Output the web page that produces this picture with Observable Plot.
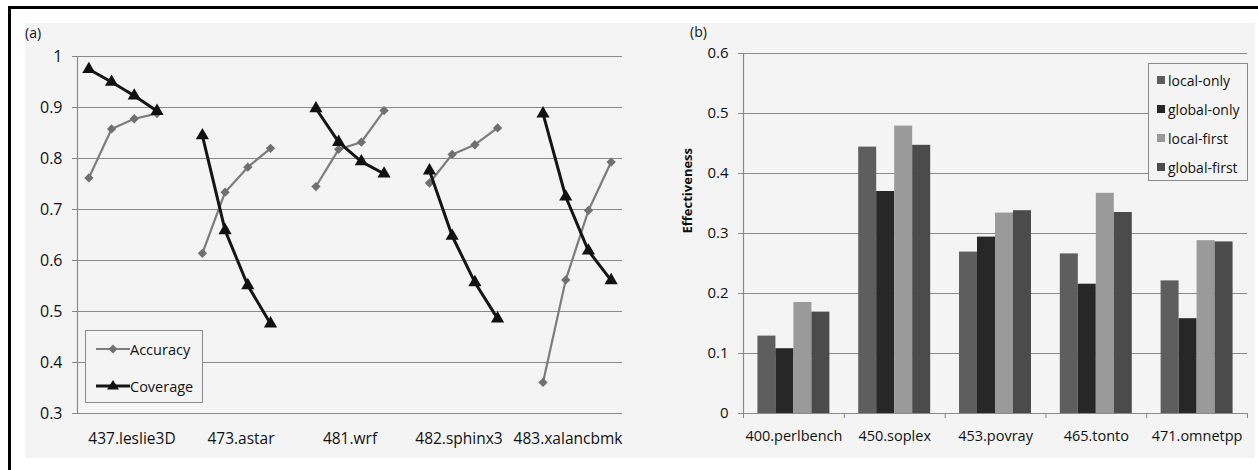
<!DOCTYPE html>
<html><head><meta charset="utf-8">
<script src="https://cdn.jsdelivr.net/npm/d3@7"></script>
<script src="https://cdn.jsdelivr.net/npm/@observablehq/plot@0.6"></script>
<style>
html,body{margin:0;padding:0;background:#fff;}
#root{position:relative;width:1258px;height:470px;overflow:hidden;font-family:"Open Sans",sans-serif;color:#111;}
#frame{position:absolute;left:8px;top:6px;width:1250px;height:464px;border-top:3px solid #000;border-left:3px solid #000;box-sizing:border-box;}
#bg{position:absolute;left:25px;top:23px;width:1230px;height:435px;background:#f4f4f4;}
.panel{position:absolute;top:0;}
.tag{position:absolute;font-size:14px;line-height:16px;color:#111;}
.legend{position:absolute;border:1px solid #8a8a8a;background:#f4f4f4;box-sizing:border-box;color:#111;}
.lrow{position:absolute;display:flex;align-items:center;white-space:nowrap;}
.sw{display:inline-block;width:8px;height:8px;margin-right:3px;}
</style></head>
<body><div id="root">
<div id="frame"></div>
<div id="bg"></div>
<div id="pa" class="panel" style="left:0"></div>
<div id="pb" class="panel" style="left:660px"></div>
<div class="tag" style="left:25px;top:25px">(a)</div>
<div class="tag" style="left:690px;top:24px">(b)</div>
<div id="legA" class="legend" style="left:85px;top:330px;width:118px;height:73px;font-size:14.5px"></div>
<div id="legB" class="legend" style="left:1148px;top:63px;width:100px;height:118px;font-size:14px"></div>
</div>
<script>
// ---- Panel (a) data ----
const benchA = ["437.leslie3D","473.astar","481.wrf","482.sphinx3","483.xalancbmk"];
const metricsA = ["Accuracy","Coverage"];
const accuracy = [
  [0.762,0.858,0.878,0.888],
  [0.614,0.734,0.783,0.820],
  [0.745,0.818,0.832,0.894],
  [0.752,0.808,0.827,0.860],
  [0.361,0.562,0.698,0.793]
];
const coverage = [
  [0.975,0.950,0.923,0.893],
  [0.845,0.659,0.551,0.476],
  [0.898,0.832,0.794,0.770],
  [0.776,0.648,0.557,0.486],
  [0.888,0.725,0.619,0.561]
];
const ticksA = [0.3,0.4,0.5,0.6,0.7,0.8,0.9,1];

// ---- Panel (b) data ----
const benchB = ["400.perlbench","450.soplex","453.povray","465.tonto","471.omnetpp"];
const seriesB = ["local-only","global-only","local-first","global-first"];
const localOnly   = [0.129,0.444,0.269,0.266,0.221];
const globalOnly  = [0.108,0.370,0.294,0.2155,0.158];
const localFirst  = [0.185,0.479,0.334,0.367,0.288];
const globalFirst = [0.169,0.447,0.338,0.335,0.286];
const ticksB = [0,0.1,0.2,0.3,0.4,0.5,0.6];
const colorsB = ["#5e5e5e","#272727","#9a9a9a","#4b4b4b"];

const fmt = d => String(+d.toFixed(1));
const GRID = "#8a8a8a";
const FONT = "'Open Sans', sans-serif";

// slots: 4 points per benchmark, one empty slot between groups
const slotsPerGroup = 5, nSlots = benchA.length * slotsPerGroup - 1;
const rowsA = [];
benchA.forEach((b, i) => {
  [accuracy, coverage].forEach((arr, m) => {
    arr[i].forEach((v, j) => rowsA.push({bench: b, metric: metricsA[m], slot: i * slotsPerGroup + j + 0.5, value: v}));
  });
});
const acc = rowsA.filter(d => d.metric === "Accuracy");
const cov = rowsA.filter(d => d.metric === "Coverage");
const labA = benchA.map((name, i) => ({name, pos: (i + 0.5) * nSlots / benchA.length}));

const plotA = Plot.plot({
  width: 680, height: 470,
  marginLeft: 77, marginRight: 58, marginTop: 56, marginBottom: 57,
  style: {background: "transparent", fontFamily: FONT, fontSize: "15px", color: "#111"},
  x: {domain: [0, nSlots], axis: null},
  y: {domain: [0.3, 1], axis: null},
  marks: [
    Plot.ruleY(ticksA, {stroke: GRID, strokeWidth: 1.2}),
    Plot.ruleX([0], {stroke: GRID, strokeWidth: 1.2}),
    Plot.axisY({ticks: ticksA, tickSize: 5, tickPadding: 10, tickFormat: fmt, stroke: GRID, fill: "#111", label: null, fontSize: 16}),
    Plot.line(acc, {x: "slot", y: "value", z: "bench", stroke: "#7c7c7c", strokeWidth: 2.2}),
    Plot.dot(acc, {x: "slot", y: "value", symbol: "diamond2", r: 4.2, fill: "#707070", stroke: "none"}),
    Plot.line(cov, {x: "slot", y: "value", z: "bench", stroke: "#151515", strokeWidth: 3}),
    Plot.dot(cov, {x: "slot", y: "value", symbol: "triangle", r: 4.9, fill: "#111", stroke: "none"}),
    Plot.text(labA, {x: "pos", text: "name", frameAnchor: "bottom", dy: 30, fontSize: 15.5, fill: "#111"})
  ]
});
document.getElementById("pa").appendChild(plotA);

// ---- Panel (b) ----
const valuesB = [localOnly, globalOnly, localFirst, globalFirst];
const outer = 0.143, barW = (1 - 2 * outer) / seriesB.length;
const rowsB = [];
benchB.forEach((b, i) => {
  seriesB.forEach((s, j) => {
    rowsB.push({bench: b, series: s, x1: i + outer + j * barW, x2: i + outer + (j + 1) * barW, value: valuesB[j][i]});
  });
});
const labB = benchB.map((name, i) => ({name, pos: i + 0.5}));

const plotB = Plot.plot({
  width: 598, height: 470,
  marginLeft: 83, marginRight: 11, marginTop: 53, marginBottom: 57,
  style: {background: "transparent", fontFamily: FONT, fontSize: "14px", color: "#111"},
  x: {domain: [0, benchB.length], axis: null},
  y: {domain: [0, 0.6], axis: null},
  color: {domain: seriesB, range: colorsB},
  marks: [
    Plot.ruleY(ticksB, {stroke: GRID, strokeWidth: 1.2}),
    Plot.ruleX([0], {stroke: GRID, strokeWidth: 1.2}),
    Plot.axisY({ticks: ticksB, tickSize: 5, tickPadding: 10, tickFormat: fmt, stroke: GRID, fill: "#111", label: null, fontSize: 15}),
    Plot.axisX({ticks: d3.range(benchB.length + 1), tickSize: 5, tickFormat: () => "", stroke: GRID, label: null}),
    Plot.rectY(rowsB, {x1: "x1", x2: "x2", y1: 0, y2: "value", fill: "series"}),
    Plot.text(labB, {x: "pos", text: "name", frameAnchor: "bottom", dy: 27, fontSize: 14.5, fill: "#111"}),
    Plot.text(["Effectiveness"], {frameAnchor: "left", rotate: -90, dx: -56, fontSize: 13, fontWeight: "bold", fill: "#111", letterSpacing: "-0.4px"})
  ]
});
document.getElementById("pb").appendChild(plotB);

// ---- Legends ----
const legA = document.getElementById("legA");
metricsA.forEach((m, i) => {
  const row = document.createElement("div");
  row.className = "lrow";
  row.style.left = "10px";
  row.style.top = (i === 0 ? 9 : 46) + "px";
  row.style.height = "18px";
  const isAcc = m === "Accuracy";
  const col = isAcc ? "#7c7c7c" : "#151515";
  const mark = isAcc
    ? `<path d="M17,4.5 L21.5,9 L17,13.5 L12.5,9 Z" fill="#707070"/>`
    : `<path d="M17,3 L23,12.5 L11,12.5 Z" fill="#111"/>`;
  row.innerHTML = `<svg width="34" height="18"><line x1="0" x2="34" y1="9" y2="9" stroke="${col}" stroke-width="${isAcc ? 2.2 : 3}"/>${mark}</svg><span>${m}</span>`;
  legA.appendChild(row);
});
const legB = document.getElementById("legB");
seriesB.forEach((s, j) => {
  const row = document.createElement("div");
  row.className = "lrow";
  row.style.left = "8px";
  row.style.top = (7 + j * 29) + "px";
  row.style.height = "18px";
  row.innerHTML = `<span class="sw" style="background:${colorsB[j]}"></span><span>${s}</span>`;
  legB.appendChild(row);
});
</script>
</body></html>
